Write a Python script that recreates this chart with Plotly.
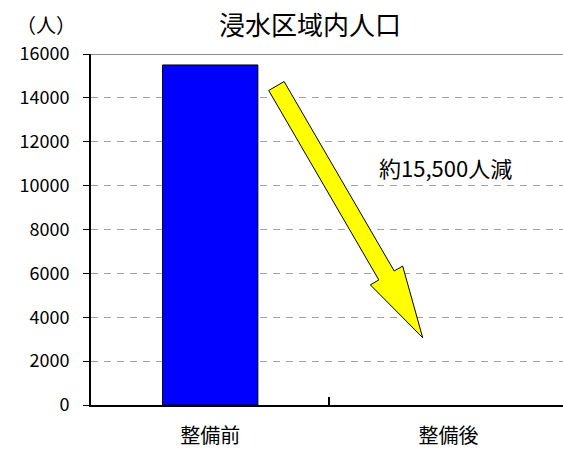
import plotly.graph_objects as go
import numpy as np

# ---- data ----
categories = ["整備前", "整備後"]
population = [15500, 0]
y_ticks = [0, 2000, 4000, 6000, 8000, 10000, 12000, 14000, 16000]
title_text = "浸水区域内人口"
unit_text = "（人）"
note_text = "約15,500人減"

FONT = "Noto Sans CJK JP"
W, H = 563, 450
ML, MR, MT, MB = 91, 0, 54, 45
PW, PH = W - ML - MR, H - MT - MB


def to_paper(px, py):
    return (px - ML) / PW, (H - MB - py) / PH


fig = go.Figure()
fig.add_trace(go.Bar(
    x=categories, y=population, width=0.4,
    marker=dict(color="#0000FF", line=dict(color="black", width=[1 if v > 0 else 0 for v in population])),
    showlegend=False,
))

# fat arrow (decoration) built in pixel space then converted to paper coords
tail = np.array([276.4, 86.0])
tip = np.array([422.7, 337.7])
shaft_w, head_w, head_len = 17.8, 37.4, 72.0
d = tip - tail
L = np.linalg.norm(d)
u = d / L
n = np.array([-u[1], u[0]])
base = tip - u * head_len
pts = [tail + n * shaft_w / 2, base + n * shaft_w / 2, base + n * head_w / 2, tip,
       base - n * head_w / 2, base - n * shaft_w / 2, tail - n * shaft_w / 2]
path = ""
for i, p in enumerate(pts):
    xp, yp = to_paper(*p)
    path += ("M" if i == 0 else "L") + f"{xp:.5f},{yp:.5f} "
path += "Z"
fig.add_shape(type="path", xref="paper", yref="paper", path=path,
              fillcolor="#FFFF00", line=dict(color="black", width=1), layer="above")

# top border line
fig.add_shape(type="line", xref="paper", yref="y", x0=0, x1=1, y0=16000, y1=16000,
              line=dict(color="#8c8c8c", width=2), layer="below")

nx, ny = to_paper(445, 167)
fig.add_annotation(x=nx, y=ny, xref="paper", yref="paper", text=note_text,
                   showarrow=False, xanchor="center", yanchor="middle",
                   font=dict(family=FONT, size=22, color="black"))

tx, ty = to_paper(310, 23)
fig.add_annotation(x=tx, y=ty, xref="paper", yref="paper",
                   text=title_text, showarrow=False, xanchor="center", yanchor="middle",
                   font=dict(family=FONT, size=26, color="black"))
ux, uy = to_paper(46, 24)
fig.add_annotation(x=ux, y=uy, xref="paper", yref="paper",
                   text=unit_text, showarrow=False, xanchor="center", yanchor="middle",
                   font=dict(family=FONT, size=20, color="black"))

fig.update_layout(
    width=W, height=H,
    margin=dict(l=ML, r=MR, t=MT, b=MB),
    paper_bgcolor="white", plot_bgcolor="white",
    font=dict(family=FONT, size=18, color="black"),
)

fig.update_xaxes(
    type="category", range=[-0.5, 1.48],
    showline=True, linecolor="black", linewidth=2,
    ticks="inside", ticklen=8, tickwidth=2, tickcolor="black", tickson="boundaries",
    showgrid=False, tickfont=dict(family=FONT, size=20), ticklabelstandoff=12,
)
fig.update_yaxes(
    range=[0, 16000], tickvals=y_ticks, tickformat="d",
    showline=True, linecolor="black", linewidth=2,
    ticks="outside", ticklen=6, tickwidth=1, tickcolor="black",
    showgrid=True, gridcolor="#a0a0a0", gridwidth=1, griddash="7px,6px",
    zeroline=False, tickfont=dict(family=FONT, size=18), ticklabelstandoff=10,
)

fig.write_html("out.html")
